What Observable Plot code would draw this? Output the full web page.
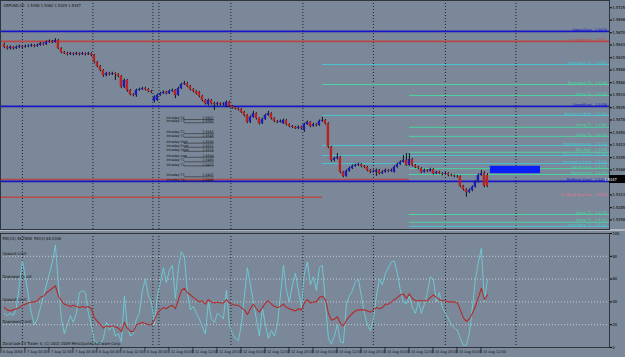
<!DOCTYPE html>
<html><head><meta charset="utf-8">
<script src="https://cdn.jsdelivr.net/npm/d3@7"></script>
<script src="https://cdn.jsdelivr.net/npm/@observablehq/plot@0.6"></script>
<style>
body{margin:0;background:#7a8899;}
#chart{width:625px;height:357px;overflow:hidden;background:#7a8899;}
#gap{height:2px;background:#aeb8c4;}
svg{display:block;}
</style>
</head><body><div id="chart"><div id="main"></div><div id="gap"></div><div id="ind"></div></div>
<script>
// ---- price data (pips: 5640 = 1.5640), one hourly bar each ----
const opens = [5644,5638,5635,5638,5635,5638,5640,5638,5640,5640,
5642,5640,5642,5646,5644,5649,5651,5649,5653,5635,
5627,5624,5622,5624,5622,5624,5622,5624,5622,5624,
5620,5605,5596,5587,5576,5580,5578,5580,5578,5574,
5550,5565,5543,5534,5532,5543,5545,5547,5545,5541,
5519,5521,5532,5536,5539,5536,5541,5543,5532,5547,
5556,5558,5552,5545,5541,5539,5530,5521,5512,5521,
5514,5512,5514,5512,5508,5517,5508,5505,5503,5501,
5495,5488,5473,5484,5492,5481,5470,5479,5488,5492,
5481,5475,5473,5470,5477,5468,5464,5462,5459,5462,
5455,5468,5473,5464,5468,5466,5475,5477,5470,5418,
5389,5393,5396,5363,5354,5365,5371,5376,5378,5380,
5376,5374,5367,5363,5363,5367,5360,5363,5367,5365,
5363,5374,5380,5385,5389,5378,5391,5378,5374,5371,
5363,5367,5365,5369,5360,5363,5360,5358,5360,5356,
5355,5354,5353,5332,5325,5319,5323,5330,5341,5356,
5360,5356];
const closes = [5638,5635,5638,5635,5638,5640,5638,5640,5641,5642,
5640,5642,5646,5644,5649,5651,5649,5653,5635,5627,
5624,5622,5624,5622,5624,5622,5624,5622,5624,5620,
5605,5596,5587,5576,5580,5578,5580,5578,5574,5550,
5565,5543,5534,5532,5543,5545,5547,5545,5541,5539,
5528,5532,5536,5539,5536,5541,5543,5532,5547,5556,
5558,5552,5545,5541,5536,5530,5521,5514,5521,5514,
5512,5514,5512,5513,5517,5508,5505,5503,5501,5495,
5488,5473,5484,5492,5481,5470,5479,5488,5492,5481,
5475,5473,5475,5477,5468,5464,5462,5459,5462,5459,
5468,5473,5464,5468,5466,5475,5477,5470,5418,5389,
5393,5396,5363,5354,5365,5371,5376,5378,5380,5376,
5374,5367,5363,5365,5367,5360,5363,5367,5365,5367,
5374,5380,5385,5389,5378,5391,5378,5374,5371,5363,
5367,5365,5369,5360,5363,5360,5358,5360,5356,5355,
5354,5353,5332,5325,5319,5323,5330,5341,5356,5360,
5332,5332];
const highs = [5647,5641,5641,5640,5641,5643,5642,5643,5643,5645,
5644,5645,5649,5648,5652,5654,5653,5657,5655,5637,
5629,5627,5627,5626,5627,5626,5627,5626,5627,5626,
5622,5607,5598,5589,5583,5583,5583,5582,5580,5576,
5568,5567,5545,5536,5546,5548,5550,5550,5547,5543,
5531,5535,5539,5542,5541,5544,5546,5545,5550,5559,
5563,5561,5554,5547,5543,5541,5532,5523,5524,5523,
5517,5517,5516,5516,5520,5519,5510,5507,5505,5503,
5497,5490,5487,5497,5494,5483,5482,5491,5497,5494,
5483,5477,5478,5480,5479,5470,5466,5464,5465,5464,
5471,5476,5475,5471,5470,5478,5484,5479,5472,5420,
5396,5404,5398,5365,5368,5374,5379,5381,5383,5382,
5378,5376,5369,5368,5370,5369,5366,5370,5369,5370,
5377,5383,5388,5400,5404,5404,5393,5380,5376,5373,
5370,5369,5372,5371,5365,5365,5362,5363,5362,5359,
5357,5356,5355,5334,5327,5326,5333,5344,5359,5367,
5364,5360];
const lows = [5635,5632,5632,5632,5633,5635,5635,5636,5637,5638,
5637,5638,5640,5641,5642,5647,5646,5647,5633,5624,
5622,5619,5620,5619,5620,5619,5620,5619,5620,5617,
5602,5593,5584,5572,5573,5575,5576,5565,5571,5547,
5547,5539,5531,5529,5528,5541,5543,5542,5538,5536,
5516,5519,5530,5534,5533,5534,5539,5525,5530,5545,
5554,5549,5542,5538,5533,5527,5518,5511,5509,5511,
5499,5509,5509,5509,5505,5505,5502,5500,5498,5492,
5485,5470,5470,5482,5478,5467,5468,5477,5486,5478,
5472,5470,5471,5468,5465,5461,5459,5457,5457,5456,
5451,5466,5461,5462,5463,5464,5473,5467,5415,5385,
5386,5390,5360,5351,5352,5363,5369,5374,5376,5373,
5371,5364,5360,5361,5354,5357,5358,5361,5362,5363,
5361,5372,5378,5383,5376,5376,5375,5371,5368,5360,
5361,5362,5363,5357,5358,5358,5355,5356,5353,5353,
5351,5350,5329,5322,5308,5316,5320,5328,5339,5354,
5329,5329];

// ---- indicator data ----
const rsi14 = [35,33,32,33,34,35,37,38,39,40,
40,41,44,45,48,50,52,54,45,41,
38,37,36,37,36,35,36,35,36,34,
26,23,20,17,19,18,19,18,17,14,
22,17,14,14,20,21,22,21,20,20,
24,30,33,35,34,36,37,34,42,50,
52,48,46,44,42,40,41,38,42,40,
39,40,39,39,42,39,38,37,37,35,
33,29,34,38,34,31,35,39,41,38,
36,35,36,38,35,34,33,32,34,33,
39,42,39,40,40,44,45,42,30,24,
25,27,21,19,24,27,30,32,33,33,
33,32,31,33,35,34,35,38,38,40,
42,44,46,47,43,47,43,41,41,41,
41,41,44,46,44,42,41,41,40,40,
40,39,33,26,23,25,30,36,44,52,
42,46];
const rsi3 = [30,28,30,28,35,55,76,62,45,30,
20,25,35,45,55,65,75,90,55,25,
12,20,28,22,30,48,50,48,30,20,
5,4,3,8,22,15,20,10,12,5,
45,18,10,12,25,30,50,60,45,40,
20,45,57,70,57,68,72,43,70,84,
80,48,33,36,30,25,18,12,40,25,
22,30,28,25,50,20,12,8,6,20,
45,70,55,40,25,10,35,20,8,15,
10,20,45,72,50,40,55,65,50,35,
65,75,55,62,50,70,72,40,8,3,
10,20,5,4,38,45,50,58,60,45,
30,20,15,25,45,60,55,65,70,75,
76,65,50,40,38,45,35,30,40,30,
38,48,62,60,40,48,35,30,25,20,
17,15,8,2,2,13,35,60,75,87,
40,60];

// ---- axes / labels ----
const priceTicks = [5725,5698,5670,5643,5615,5588,5560,5533,5505,5478,5450,5423,5395,5368,5313,5285,5258];
const rsiTicks = [0,20,40,60,80,100];
const daySeparators = [6,29.5,49.5,51.5,75.5,99.5,123,147,170.5];
const timeBars = [-1,7,15,23,31,39,47,55,63,71,79,87,95,103,111,119,127,135,143,151,159];
const timeLabels = ["6 Aug 2008","7 Aug 04:00","7 Aug 12:00","7 Aug 20:00","8 Aug 04:00","8 Aug 12:00","8 Aug 20:00","11 Aug 04:00","11 Aug 12:00","11 Aug 20:00","12 Aug 04:00","12 Aug 12:00","12 Aug 20:00","13 Aug 04:00","13 Aug 12:00","13 Aug 20:00","14 Aug 04:00","14 Aug 12:00","14 Aug 20:00","15 Aug 04:00","15 Aug 12:00"];

// price levels drawn as horizontal lines: level (pips), first bar, last bar, colour key, thick
const levelPips  = [5673,5651,5600,5556,5532,5508,5488,5462,5442,5422,5407,5400,5382,5371,5358,5347,5343,5308,5270,5253,5244];
const levelFrom  = [-1.3,-1.3,106,106,135,-1.3,106,135,135,106,135,106,106,135,135,-1.3,-1.3,-1.3,135,135,135];
const levelTo    = [201.7,201.7,201.7,201.7,201.7,201.7,201.7,201.7,201.7,201.7,201.7,201.7,201.7,201.7,201.7,135,201.7,106,201.7,201.7,201.7];
const levelColor = ["blue","red","cyan","green","green","blue","cyan","green","green","cyan","green","cyan","cyan","green","green","red","blue","red","green","green","cyan"];
const levelThick = [1,1,0,0,0,1,0,0,0,0,0,0,0,0,0,1,1,1,0,0,0];
// labels on the right
const labelPips  = [5673,5651,5600,5556,5532,5508,5488,5462,5442,5422,5409,5398,5382,5371,5358,5343,5310,5270,5253,5244];
const labelNames = ["UpperZone","CurrentZone","Resistance T1","Resistance T1","Swing T1","UpperPivot","Resistance High","Swing T1","Swing T1","Resistance Long","Fibo High","Resistance Pivot","Resistance Short","Swing Long","Swing Short","MidPoint Short","F+/Pivot Buy Line","Swing T1","Swing T2","Resistance T1"];
const labelColor = ["blue","red","cyan","green","green","blue","cyan","green","green","cyan","green","cyan","cyan","green","green","blue","pink","green","green","cyan"];

// intraday text block
const intraBar = 54;
const intraPips  = [5479,5472,5448,5440,5427,5418,5409,5396,5386,5377,5353,5344];
const intraNames = ["Intraday T4","Intraday T3","Intraday T2","Intraday T1","Intraday High","Intraday Pivot","Intraday Open","Intraday Low","Intraday T1","Intraday T2","Intraday T3","Intraday T4"];
const intraVals  = ["1.5607","1.5582","1.5565","1.5548","1.5536","1.5521","1.5515","1.5504","1.5490","1.5473","1.5462","1.5445"];

// target zone (bars from/to, pips low/high)
const zoneBars = [162,178.7];
const zonePips = [5360,5376];

const currentPips = 5347;
const title = "GBPUSD,H1  1.5358 1.5362 1.5329 1.5347";
const rsiHeader = "RSI(14) 46.7898  RSI(3) 68.4346";
const copyright = "Zaratrade FX Trader 4, (C) 2001-2009 MetaQuotes Software Corp.";
const limitValues = [80,60,40,20];
const limitNames = ["Upward Limit","Downward Limit","Upward Limit","Downward Limit"];

// ---- build ----
const palette = {blue:"#1616c8", red:"#b84848", cyan:"#4cc4d2", green:"#4cd4a2", pink:"#f07090"};
const bull = "#1c1cb8", bear = "#b82222";
const fmtP = p => (1 + p/10000).toFixed(4);
const xDomain = [-1.3, 201.7];
const bars = opens.map((o,i)=>({i, open:o, close:closes[i], high:highs[i], low:lows[i], r14:rsi14[i], r3:rsi3[i]}));
const levels = levelPips.map((p,i)=>({p, from:levelFrom[i], to:levelTo[i], c:palette[levelColor[i]], thick:levelThick[i]}));
const labels = labelPips.map((p,i)=>({p, name:labelNames[i], c:palette[labelColor[i]]}));
const intra = intraPips.map((p,i)=>({p, name:intraNames[i], v:intraVals[i]}));
const limits = limitValues.map((v,i)=>({v, name:limitNames[i]}));
const font = "'Liberation Sans Narrow', 'DejaVu Sans Condensed', 'Roboto', sans-serif";
const style = {background:"transparent", color:"#000", fontSize:"4px", fontFamily:font, overflow:"visible"};

const main = Plot.plot({
  width:625, height:229, marginLeft:0, marginRight:16, marginTop:0, marginBottom:0,
  style,
  x:{domain:xDomain, axis:null},
  y:{domain:[5237,5741], axis:"right", ticks:priceTicks, tickFormat:fmtP, tickSize:2, tickPadding:1, label:null},
  color:{type:"identity"},
  marks:[
    Plot.ruleX(daySeparators, {stroke:"#1c2026", strokeDasharray:"1,2", strokeWidth:1}),
    Plot.ruleY(levels.filter(d=>!d.thick), {y:"p", x1:"from", x2:"to", stroke:"c", strokeWidth:1}),
    Plot.ruleY(levels.filter(d=>d.thick), {y:"p", x1:"from", x2:"to", stroke:"c", strokeWidth:1.6}),
    Plot.rect([0], {x1:zoneBars[0], x2:zoneBars[1], y1:zonePips[0], y2:zonePips[1], fill:"#0a1ef5"}),
    Plot.ruleX(bars, {x:"i", y1:"low", y2:"high", stroke:"#121212", strokeWidth:1}),
    Plot.rect(bars, {x1:d=>d.i-0.4, x2:d=>d.i+0.4, y1:"open", y2:"close", fill:d=>d.close>d.open?bull:bear}),
    Plot.text(labels, {y:"p", text:"name", fill:"c", frameAnchor:"right", textAnchor:"end", dx:-18, dy:-2, fontSize:3.8}),
    Plot.text(labels, {y:"p", text:d=>fmtP(d.p), fill:"c", frameAnchor:"right", textAnchor:"end", dx:-2.5, dy:-2, fontSize:3.8}),
    Plot.ruleY(intra, {y:"p", x1:intraBar+6, x2:intraBar+16, stroke:"#2a2a2a", strokeWidth:0.6}),
    Plot.text(intra, {x:intraBar, y:"p", text:"name", textAnchor:"start", dy:-1.5, fill:"#111", fontSize:3.5}),
    Plot.text(intra, {x:intraBar+12, y:"p", text:"v", textAnchor:"start", dy:-1.5, fill:"#111", fontSize:3.5}),
    Plot.text([title], {frameAnchor:"top-left", dx:3, dy:4, fill:"#111", fontSize:4}),
    Plot.frame({stroke:"#30353d", strokeWidth:1})
  ]
});

const ind = Plot.plot({
  width:625, height:126, marginLeft:0, marginRight:16, marginTop:2, marginBottom:10,
  style,
  x:{domain:xDomain, axis:null},
  y:{domain:[0,100], axis:"right", ticks:rsiTicks, tickSize:2, tickPadding:1, label:null},
  marks:[
    Plot.ruleX(daySeparators, {stroke:"#1c2026", strokeDasharray:"1,2", strokeWidth:1}),
    Plot.ruleY(limits, {y:"v", stroke:"#c6ccd6", strokeDasharray:"1,2", strokeWidth:1}),
    Plot.text(limits, {y:"v", text:"name", frameAnchor:"left", textAnchor:"start", dx:2, dy:-2.5, fill:"#111", fontSize:4}),
    Plot.line(bars, {x:"i", y:"r3", stroke:"#6cd2da", strokeWidth:1, strokeDasharray:"1,1"}),
    Plot.line(bars, {x:"i", y:"r14", stroke:"#b42a2a", strokeWidth:1.1}),
    Plot.text([rsiHeader], {frameAnchor:"top-left", dx:2, dy:4, fill:"#111", fontSize:4}),
    Plot.text([copyright], {frameAnchor:"bottom-left", dx:2, dy:-3, fill:"#111", fontSize:4}),
    Plot.text(timeLabels, {x:(d,i)=>timeBars[i], text:d=>d, frameAnchor:"bottom", textAnchor:"start", dx:1.5, dy:5.5, fill:"#111", fontSize:3.8}),
    Plot.frame({stroke:"#30353d", strokeWidth:1})
  ]
});

document.getElementById("main").appendChild(main);
document.getElementById("ind").appendChild(ind);

// small tick marks on the time axis and current-price box, placed with the plots' own scales
const xs = ind.scale("x"), ys = main.scale("y");
const si = d3.select(ind);
si.append("g").selectAll("line").data(timeBars).join("line")
  .attr("x1", d=>xs.apply(d)).attr("x2", d=>xs.apply(d))
  .attr("y1", 116).attr("y2", 122).attr("stroke", "#111").attr("stroke-width", 0.7);
const sm = d3.select(main);
const cy = ys.apply(currentPips);
const g = sm.append("g");
g.append("rect").attr("x", 609).attr("y", cy-4).attr("width", 16).attr("height", 8).attr("fill", "#000");
g.append("text").attr("x", 610.5).attr("y", cy+1.5).attr("fill", "#fff").attr("font-size", 4).attr("font-family", font).text(fmtP(currentPips));
</script></body></html>
